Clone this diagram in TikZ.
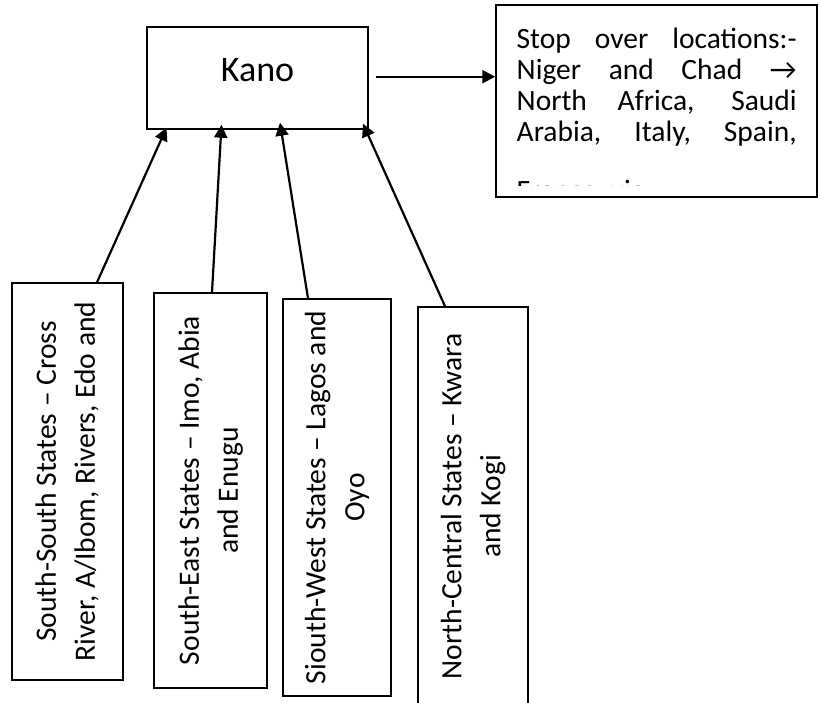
\documentclass[tikz,border=0pt]{standalone}
\usepackage{fontspec}
\setmainfont{Carlito}
\usepackage{graphicx}
\usetikzlibrary{arrows.meta, calc}

\tikzset{
  box/.style={draw, line width=1.4pt, inner sep=0pt},
  link/.style={line width=2.2pt, -{Triangle[length=13pt,width=13pt]}},
}
\newcommand{\sidetext}[1]{\rotatebox{90}{\begin{tabular}{@{}c@{}}#1\end{tabular}}}

\begin{document}
\begin{tikzpicture}[x=1pt,y=-1pt,font={\fontsize{29.5}{39}\selectfont}]
\useasboundingbox (0,0) rectangle (821,703);
% hub and destination
\node[box, minimum width=221pt, minimum height=102pt, font={\fontsize{36}{40}\selectfont}] (kano) at (257.5,78)
  {\raisebox{8pt}[\height][\depth]{Kano}};
\node[box, minimum width=321pt, minimum height=192pt] (stop) at (656.5,101) {};
\begin{scope}
\clip (497,6) rectangle (816,185.5); % last line is cut off
\node[anchor=north west, inner sep=0pt, text width=280pt, align=justify,
  font={\fontsize{29.5}{31}\selectfont}] (stoptext) at (516.5,28)
  {Stop over locations:-\linebreak Niger and Chad →\linebreak North Africa, Saudi\linebreak Arabia, Italy, Spain,\vspace{28pt}\linebreak France, via};
\end{scope}
% source regions
\node[box, minimum width=111pt, minimum height=397pt] (south) at (67.5,481.5)
  {\sidetext{South-South States – Cross\\River, A/Ibom,  Rivers, Edo and}};
\node[box, minimum width=113pt, minimum height=395pt] (east) at (210.5,490.5)
  {\sidetext{South-East States – Imo, Abia\\and Enugu}};
\node[box, minimum width=108pt, minimum height=397pt] (west) at (337,497.5)
  {\sidetext{Siouth-West States – Lagos and\\Oyo}};
\node[box, minimum width=110pt, minimum height=399pt] (central) at (473,506.5)
  {\sidetext{North-Central States – Kwara\\and Kogi}};
% routes
\draw[link] ($(south.north)+(29.5,0)$) -- ($(kano.south)+(-91,-2)$);
\draw[link] ($(east.north)+(1.5,0)$) -- ($(kano.south)+(-36,-5)$);
\draw[link] ($(west.north)+(-29,0)$) -- ($(kano.south)+(22.5,-7)$);
\draw[link] ($(central.north)+(-28,0)$) -- ($(kano.south)+(105.5,-6)$);
\draw[link] ($(kano.east)+(7,-1.3)$) -- ($(stop.west)+(0,-24.3)$);
\end{tikzpicture}
\end{document}
